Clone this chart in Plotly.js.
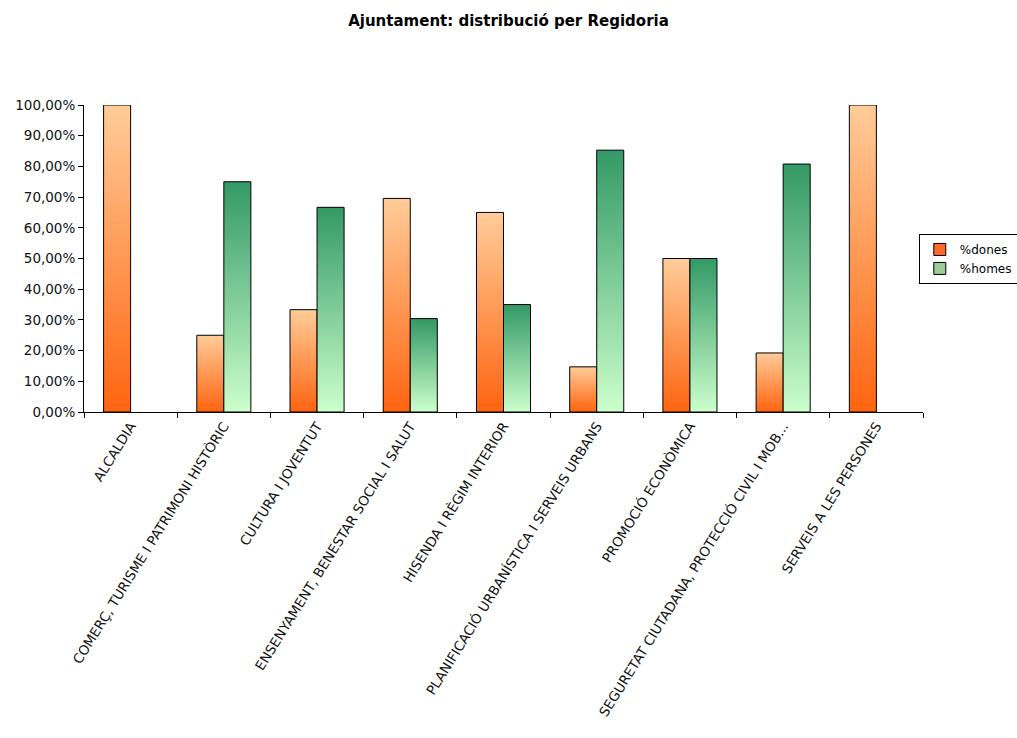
<!DOCTYPE html>
<html>
<head>
<meta charset="utf-8">
<script src="https://cdn.plot.ly/plotly-3.0.1.min.js"></script>
<style>
html,body{margin:0;padding:0;background:#fff;}
#chart{width:1017px;height:738px;}
</style>
</head>
<body>
<div id="chart"></div>
<script>
var categories = [
  "ALCALDIA",
  "COMERÇ, TURISME I PATRIMONI HISTÒRIC",
  "CULTURA I JOVENTUT",
  "ENSENYAMENT, BENESTAR SOCIAL I SALUT",
  "HISENDA I RÈGIM INTERIOR",
  "PLANIFICACIÓ URBANÍSTICA I SERVEIS URBANS",
  "PROMOCIÓ ECONÒMICA",
  "SEGURETAT CIUTADANA, PROTECCIÓ CIVIL I MOB...",
  "SERVEIS A LES PERSONES"
];
var dones = [100, 25, 33.33, 69.57, 65, 14.71, 50, 19.23, 100];
var homes = [0, 75, 66.67, 30.43, 35, 85.29, 50, 80.77, 0];
var yTickVals = [0, 10, 20, 30, 40, 50, 60, 70, 80, 90, 100];
var yTickText = ["0,00%", "10,00%", "20,00%", "30,00%", "40,00%", "50,00%", "60,00%", "70,00%", "80,00%", "90,00%", "100,00%"];

var font = "DejaVu Sans, Verdana, sans-serif";

function outline(vals) { return vals.map(function (v) { return v > 0 ? 1 : 0; }); }

var traces = [
  {type: "bar", name: "%dones", x: categories, y: dones,
   marker: {color: "#FF6A2A", line: {color: "#000000", width: outline(dones)}}, hoverinfo: "none"},
  {type: "bar", name: "%homes", x: categories, y: homes,
   marker: {color: "#99CC99", line: {color: "#000000", width: outline(homes)}}, hoverinfo: "none"}
];

var layout = {
  width: 1017, height: 738,
  paper_bgcolor: "#ffffff", plot_bgcolor: "#ffffff",
  margin: {l: 84, r: 94, t: 105, b: 326, pad: 0, autoexpand: false},
  title: {text: "<b>Ajuntament: distribució per Regidoria</b>", x: 0.5, xanchor: "center",
          y: 0.972, yanchor: "middle", yref: "container",
          font: {family: font, size: 15, color: "#000000"}},
  barmode: "group", bargap: 0.42, bargroupgap: 0,
  showlegend: true,
  legend: {x: 0.995, xanchor: "left", y: 0.58, yanchor: "top",
           bordercolor: "#000000", borderwidth: 1, bgcolor: "#ffffff",
           font: {family: font, size: 12, color: "#000000"},
           tracegroupgap: 0, itemwidth: 30},
  xaxis: {type: "category", showgrid: false, zeroline: false,
          showline: true, linecolor: "#000000", linewidth: 1,
          ticks: "outside", ticklen: 5, tickcolor: "#000000", tickson: "boundaries",
          tickangle: -58, automargin: false,
          tickfont: {family: font, size: 13.5, color: "#111111"}},
  yaxis: {range: [0, 100], showgrid: false, zeroline: false,
          showline: true, linecolor: "#000000", linewidth: 1,
          ticks: "outside", ticklen: 5, tickcolor: "#000000",
          tickvals: yTickVals, ticktext: yTickText, automargin: false,
          tickfont: {family: font, size: 13.5, color: "#111111"}}
};

function applyGradients(gd) {
  var svg = gd.querySelector("svg.main-svg");
  if (!svg) return;
  var defs = svg.querySelector("defs");
  if (!defs) { defs = document.createElementNS("http://www.w3.org/2000/svg", "defs"); svg.insertBefore(defs, svg.firstChild); }
  function mk(id, top, bottom) {
    if (svg.querySelector("#" + id)) return;
    var g = document.createElementNS("http://www.w3.org/2000/svg", "linearGradient");
    g.setAttribute("id", id);
    g.setAttribute("x1", "0"); g.setAttribute("y1", "0");
    g.setAttribute("x2", "0"); g.setAttribute("y2", "1");
    [[0, top], [1, bottom]].forEach(function (s) {
      var st = document.createElementNS("http://www.w3.org/2000/svg", "stop");
      st.setAttribute("offset", s[0]);
      st.setAttribute("stop-color", s[1]);
      g.appendChild(st);
    });
    defs.appendChild(g);
  }
  mk("gradDones", "#FFCC99", "#FF6410");
  mk("gradHomes", "#339966", "#CCFFCC");
  var ids = ["gradDones", "gradHomes"];
  var groups = gd.querySelectorAll(".barlayer .trace.bars");
  groups.forEach(function (grp, i) {
    grp.querySelectorAll("path").forEach(function (p) {
      p.style.fill = "url(#" + ids[i] + ")";
    });
  });
  gd.querySelectorAll(".legend .legendpoints path").forEach(function (p) {
    p.style.stroke = "#000000";
    p.style.strokeWidth = "1px";
  });
}

var gd = document.getElementById("chart");
Plotly.newPlot(gd, traces, layout, {displayModeBar: false, staticPlot: true}).then(function () {
  applyGradients(gd);
  gd.on("plotly_afterplot", function () { applyGradients(gd); });
});
</script>
</body>
</html>
